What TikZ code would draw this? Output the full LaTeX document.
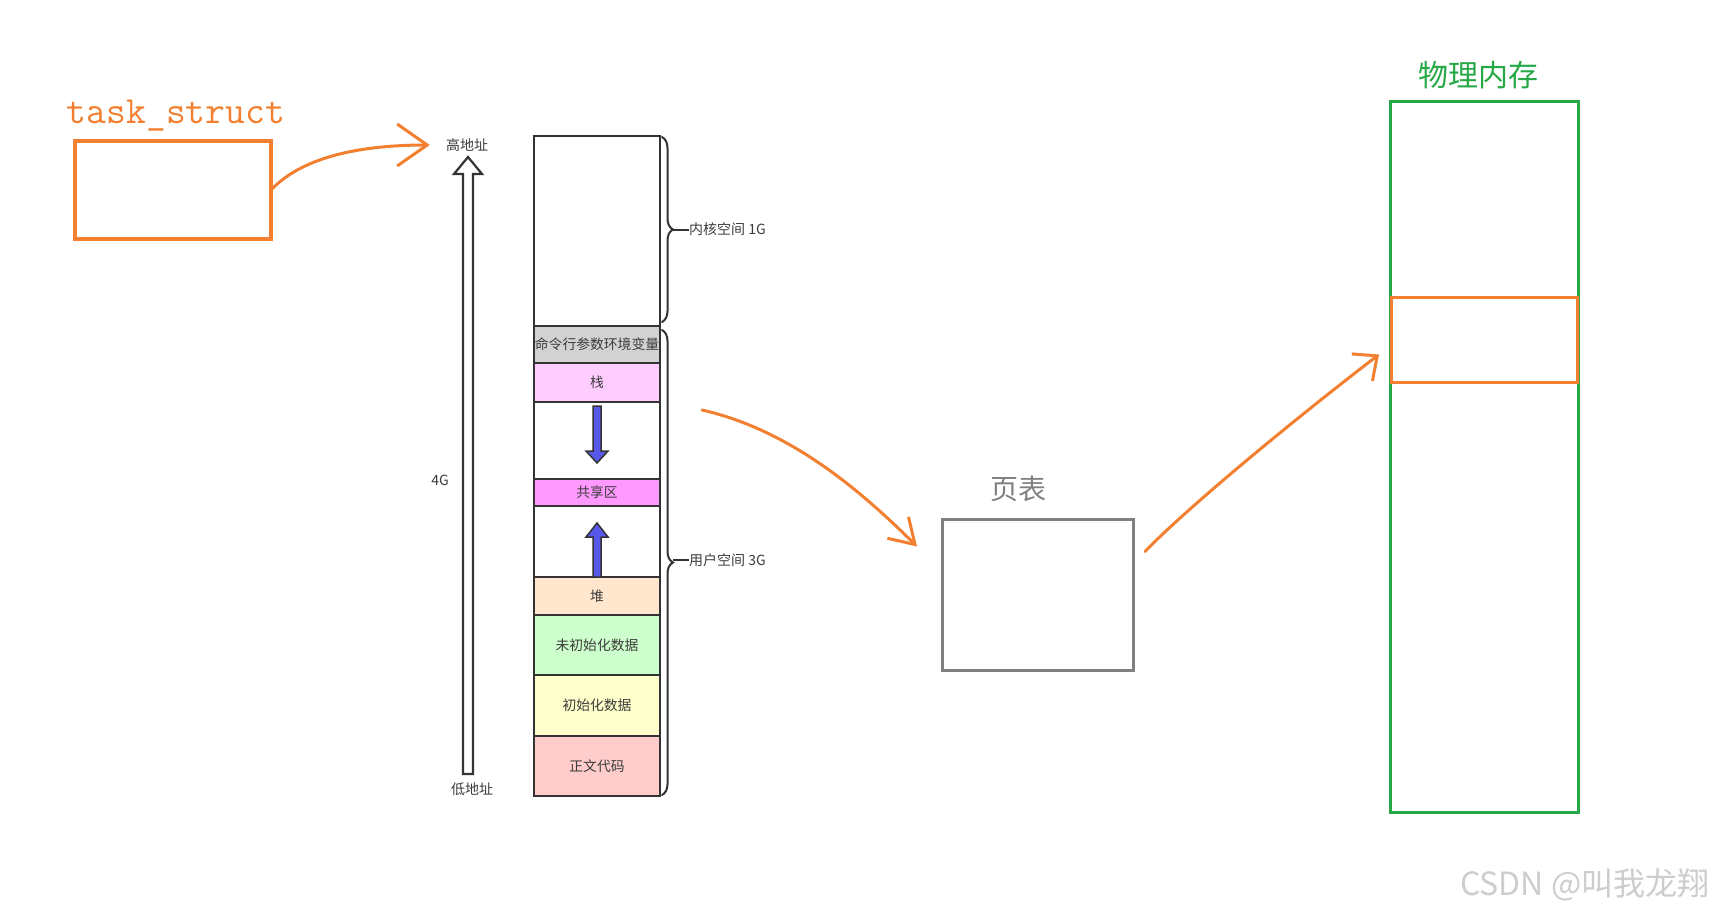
\documentclass[tikz,border=0pt]{standalone}
\usepackage{fontspec}
\newfontfamily\cjk{Noto Sans CJK SC}
\usetikzlibrary{arrows.meta,decorations.pathreplacing,positioning}

\definecolor{penorange}{RGB}{242,128,48}
\definecolor{memgreen}{RGB}{38,168,70}
\definecolor{tablegray}{RGB}{128,128,128}
\definecolor{segline}{RGB}{51,51,51}
\definecolor{segtext}{RGB}{60,60,60}
\definecolor{argvgray}{RGB}{210,210,210}
\definecolor{stackpink}{RGB}{255,204,255}
\definecolor{shmmagenta}{RGB}{255,153,255}
\definecolor{heappeach}{RGB}{255,230,204}
\definecolor{bssgreen}{RGB}{204,255,204}
\definecolor{datayellow}{RGB}{255,255,204}
\definecolor{textred}{RGB}{255,204,204}
\definecolor{growblue}{RGB}{88,88,235}
\definecolor{markgray}{RGB}{205,205,205}

\tikzset{
    seg/.style={draw=segline,line width=2.5pt,minimum width=126pt,inner sep=0pt,outer sep=0pt,
        text=segtext,font=\cjk\fontsize{13.8}{14}\selectfont},
    addr/.style={inner sep=0pt,text=segtext,font=\cjk\fontsize{14}{15}\selectfont},
    pen/.style={penorange,line width=3pt,line cap=round,line join=round},
    box/.style={inner sep=0pt,outer sep=0pt}
}

\begin{document}
\begin{tikzpicture}[x=1pt,y=-1pt]
    \useasboundingbox (0,0) rectangle (1713,916);

    % task_struct
    \node[box,draw=penorange,line width=4.5pt,minimum width=196pt,minimum height=98pt] (task) at (173,190) {};
    \node[text=penorange,font=\ttfamily\fontsize{38.5}{40}\selectfont] (tasklbl) at (176,116) {task\_struct};

    % address labels and the 4G arrow
    \node[addr] (hi) at (467,145) {高地址};
    \node[addr] (lo) at (472,789) {低地址};
    \node[addr] (size) at (440,480) {4G};
    \draw[segline,line width=2.2pt,fill=white,line join=miter]
        (463,774) -- (473,774) -- (473,174) -- (482,174) -- (468,157) -- (454,174) -- (463,174) -- cycle;

    % memory column
    \node[seg,minimum height=190pt,anchor=north] (kern) at (597,136) {};
    \node[seg,minimum height=37pt,fill=argvgray,below=0pt of kern] (argv) {命令行参数环境变量};
    \node[seg,minimum height=39pt,fill=stackpink,below=0pt of argv] (stack) {栈};
    \node[seg,minimum height=77pt,below=0pt of stack] (gapa) {};
    \node[seg,minimum height=27pt,fill=shmmagenta,below=0pt of gapa] (shm) {共享区};
    \node[seg,minimum height=71pt,below=0pt of shm] (gapb) {};
    \node[seg,minimum height=38pt,fill=heappeach,below=0pt of gapb] (heap) {堆};
    \node[seg,minimum height=60pt,fill=bssgreen,below=0pt of heap] (bss) {未初始化数据};
    \node[seg,minimum height=61pt,fill=datayellow,below=0pt of bss] (data) {初始化数据};
    \node[seg,minimum height=60pt,fill=textred,below=0pt of data] (code) {正文代码};

    % stack grows down, heap grows up
    \begin{scope}[every path/.style={draw=segline,line width=1.5pt,fill=growblue,line join=miter}]
        \draw (593,406) -- (601,406) -- (601,451) -- (608,451) -- (597,463) -- (586,451) -- (593,451) -- cycle;
        \draw (593,577) -- (601,577) -- (601,537) -- (608,537) -- (597,523) -- (586,537) -- (593,537) -- cycle;
    \end{scope}

    % braces
    \begin{scope}[every path/.style={draw=segline,line width=2pt,line cap=round}]
        \draw[decorate,decoration={brace,amplitude=11pt}] (662,137) -- (662,322);
        \draw[decorate,decoration={brace,amplitude=11pt}] (662,330) -- (662,795);
    \end{scope}
    \coordinate (ktip) at (673,229.5);
    \coordinate (utip) at (673,560);
    \node[addr,anchor=west] (klbl) at (689,229.5) {内核空间 1G};
    \node[addr,anchor=west] (ulbl) at (689,560) {用户空间 3G};
    \draw[segline,line width=2pt] (ktip) -- (klbl.west);
    \draw[segline,line width=2pt] (utip) -- (ulbl.west);

    % page table
    \node[box,draw=tablegray,line width=3pt,minimum width=191pt,minimum height=151pt] (pt) at (1037.5,594.5) {};
    \node[text=tablegray,font=\cjk\fontsize{28}{30}\selectfont] (ptlbl) at (1018,489) {页表};

    % physical memory
    \node[box,draw=memgreen,line width=3pt,minimum width=188pt,minimum height=711pt] (mem) at (1484,456.5) {};
    \node[text=memgreen,font=\cjk\fontsize{30}{32}\selectfont] (memlbl) at (1478,75) {物理内存};
    \node[box,draw=penorange,line width=3pt,minimum width=186pt,minimum height=85pt] (frame) at (1484,339.5) {};

    % hand drawn arrows
    \coordinate (ustart) at (702,410);
    \draw[pen,-{Straight Barb[length=30pt,width=42pt]},shorten >=16pt]
        (task.east) .. controls +(33,-35) and +(-80,0) .. (hi.west);
    \draw[pen,-{Straight Barb[length=24pt,width=30pt]}]
        (ustart) .. controls (790,430) and (860,490) .. ([xshift=-25pt,yshift=48pt]pt.west);
    \draw[pen,-{Straight Barb[length=19pt,width=34pt]}]
        ([xshift=12pt,yshift=43pt]pt.east) .. controls (1190,505) and (1300,415) .. ([xshift=-12pt,yshift=-15pt]frame.west);

    % watermark
    \node[anchor=east,text=markgray,font=\cjk\fontsize{32}{34}\selectfont] (mark) at (1713,885) {CSDN @叫我龙翔};
\end{tikzpicture}
\end{document}
